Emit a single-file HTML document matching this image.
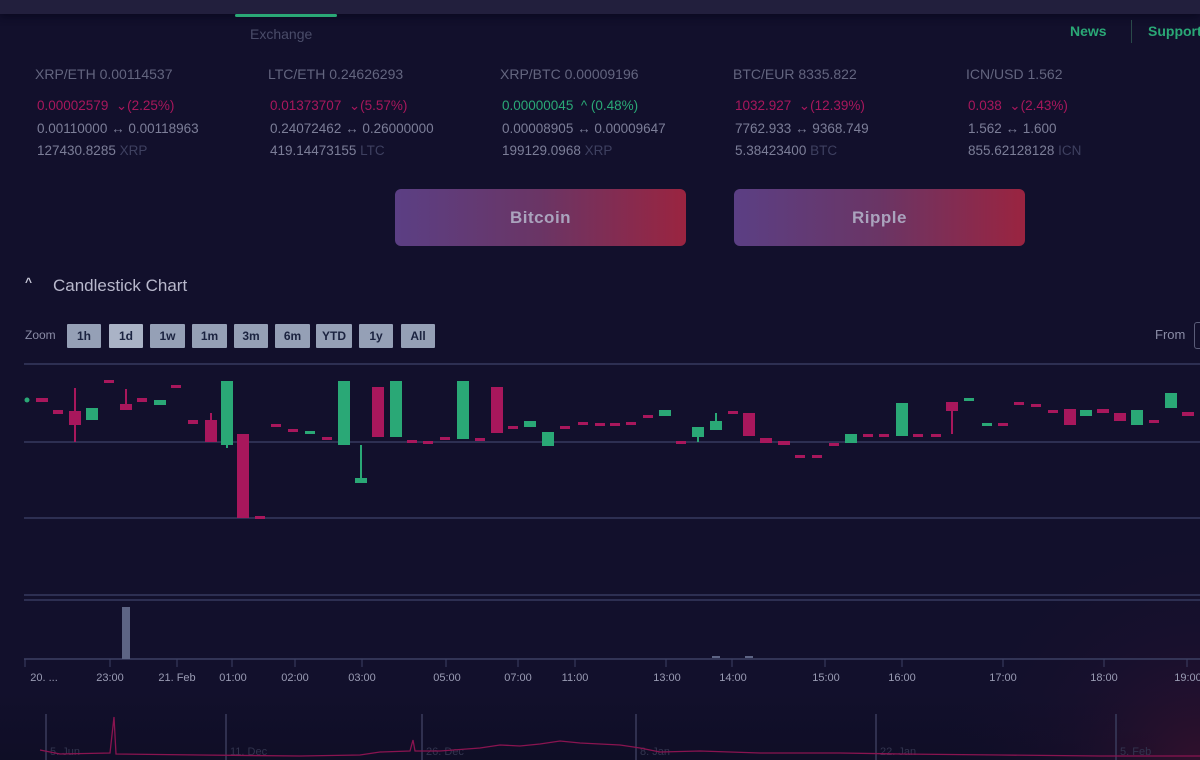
<!DOCTYPE html>
<html><head><meta charset="utf-8"><style>
*{margin:0;padding:0;box-sizing:border-box}
body{width:1200px;height:760px;overflow:hidden;background:#12102c;font-family:"Liberation Sans","DejaVu Sans",sans-serif;position:relative}
.a{position:absolute;white-space:nowrap}
.t{font-size:14px;color:#63657f}
.r{font-size:13.5px;color:#a8175c}
.g{font-size:13.5px;color:#2aa876}
.w{font-size:13.5px;color:#7c7e98}
.w span{color:#3e4060}
.btn{position:absolute;top:189px;height:57px;width:291px;border-radius:6px;background:linear-gradient(90deg,#5b3f84,#6a3565 50%,#9a2440);color:#aaa3bd;font-size:17px;text-align:center;line-height:57px;letter-spacing:0.5px;font-weight:bold}
.z{position:absolute;top:324px;height:24px;background:#95a0b6;color:#1b2340;font-weight:bold;font-size:12px;text-align:center;line-height:24px;border-radius:1px}
</style></head><body>
<div class="a" style="left:0;top:0;width:1200px;height:14px;background:#221f3d;box-shadow:0 3px 8px #0a0920"></div>
<div class="a" style="left:235px;top:14px;width:102px;height:3px;background:#2aa876;border-radius:2px"></div>
<div class="a" style="left:250px;top:26px;font-size:14px;color:#4a4c69">Exchange</div>
<div class="a" style="left:1070px;top:23px;font-size:14px;color:#2aa876;font-weight:bold">News</div>
<div class="a" style="left:1131px;top:20px;width:1px;height:23px;background:#2a4a4a"></div>
<div class="a" style="left:1148px;top:23px;font-size:14px;color:#2aa876;font-weight:bold">Support</div>

<div class="a t" style="left:35px;top:66px">XRP/ETH 0.00114537</div>
<div class="a r" style="left:37px;top:98px">0.00002579 &nbsp;⌄(2.25%)</div>
<div class="a w" style="left:37px;top:121px">0.00110000 ↔ 0.00118963</div>
<div class="a w" style="left:37px;top:143px">127430.8285 <span>XRP</span></div>

<div class="a t" style="left:268px;top:66px">LTC/ETH 0.24626293</div>
<div class="a r" style="left:270px;top:98px">0.01373707 &nbsp;⌄(5.57%)</div>
<div class="a w" style="left:270px;top:121px">0.24072462 ↔ 0.26000000</div>
<div class="a w" style="left:270px;top:143px">419.14473155 <span>LTC</span></div>

<div class="a t" style="left:500px;top:66px">XRP/BTC 0.00009196</div>
<div class="a g" style="left:502px;top:98px">0.00000045 &nbsp;^ (0.48%)</div>
<div class="a w" style="left:502px;top:121px">0.00008905 ↔ 0.00009647</div>
<div class="a w" style="left:502px;top:143px">199129.0968 <span>XRP</span></div>

<div class="a t" style="left:733px;top:66px">BTC/EUR 8335.822</div>
<div class="a r" style="left:735px;top:98px">1032.927 &nbsp;⌄(12.39%)</div>
<div class="a w" style="left:735px;top:121px">7762.933 ↔ 9368.749</div>
<div class="a w" style="left:735px;top:143px">5.38423400 <span>BTC</span></div>

<div class="a t" style="left:966px;top:66px">ICN/USD 1.562</div>
<div class="a r" style="left:968px;top:98px">0.038 &nbsp;⌄(2.43%)</div>
<div class="a w" style="left:968px;top:121px">1.562 ↔ 1.600</div>
<div class="a w" style="left:968px;top:143px">855.62128128 <span>ICN</span></div>

<div class="btn" style="left:395px">Bitcoin</div>
<div class="btn" style="left:734px">Ripple</div>

<div class="a" style="left:25px;top:275px;font-size:12px;color:#c8c8d8;font-weight:bold">^</div>
<div class="a" style="left:53px;top:276px;font-size:17px;color:#b8b8cc">Candlestick Chart</div>
<div class="a" style="left:25px;top:328px;font-size:12px;color:#8a8ca6">Zoom</div>
<div class="z" style="left:67px;width:34px">1h</div>
<div class="z" style="left:109px;width:34px;background:#aab3c6">1d</div>
<div class="z" style="left:150px;width:35px">1w</div>
<div class="z" style="left:192px;width:35px">1m</div>
<div class="z" style="left:234px;width:34px">3m</div>
<div class="z" style="left:275px;width:35px">6m</div>
<div class="z" style="left:316px;width:36px">YTD</div>
<div class="z" style="left:359px;width:34px">1y</div>
<div class="z" style="left:401px;width:34px">All</div>
<div class="a" style="left:1155px;top:327px;font-size:13px;color:#8a8ca6">From</div>
<div class="a" style="left:1194px;top:322px;width:10px;height:27px;border:1px solid #5a5c78;border-radius:3px"></div>

<svg class="a" style="left:0;top:0" width="1200" height="760">
<defs>
<radialGradient id="bg" cx="1200" cy="770" r="260" gradientUnits="userSpaceOnUse"><stop offset="0" stop-color="#4a1230" stop-opacity="0.6"/><stop offset="0.5" stop-color="#2a1030" stop-opacity="0.25"/><stop offset="1" stop-color="#12102c" stop-opacity="0"/></radialGradient>
<linearGradient id="bv" x1="0" y1="0" x2="0" y2="1"><stop offset="0" stop-color="#0c0b20" stop-opacity="0"/><stop offset="1" stop-color="#0c0b20" stop-opacity="0.5"/></linearGradient>
</defs>
<rect x="0" y="690" width="1200" height="70" fill="url(#bv)"/>
<rect x="900" y="500" width="300" height="260" fill="url(#bg)"/>
<g stroke="#2d2f52" stroke-width="2"><line x1="24" y1="364" x2="1200" y2="364"/><line x1="24" y1="442" x2="1200" y2="442"/><line x1="24" y1="518" x2="1200" y2="518"/><line x1="24" y1="595" x2="1200" y2="595"/><line x1="24" y1="600" x2="1200" y2="600"/></g>
<line x1="24" y1="659" x2="1200" y2="659" stroke="#3c4064" stroke-width="1.5"/>
<g stroke="#3c4064" stroke-width="1"><line x1="25" y1="659" x2="25" y2="667"/><line x1="110" y1="659" x2="110" y2="667"/><line x1="177" y1="659" x2="177" y2="667"/><line x1="232" y1="659" x2="232" y2="667"/><line x1="295" y1="659" x2="295" y2="667"/><line x1="362" y1="659" x2="362" y2="667"/><line x1="446" y1="659" x2="446" y2="667"/><line x1="518" y1="659" x2="518" y2="667"/><line x1="575" y1="659" x2="575" y2="667"/><line x1="666" y1="659" x2="666" y2="667"/><line x1="732" y1="659" x2="732" y2="667"/><line x1="825" y1="659" x2="825" y2="667"/><line x1="902" y1="659" x2="902" y2="667"/><line x1="1003" y1="659" x2="1003" y2="667"/><line x1="1104" y1="659" x2="1104" y2="667"/><line x1="1187" y1="659" x2="1187" y2="667"/></g>
<g font-size="11" fill="#9a9cb4" text-anchor="middle" font-family="Liberation Sans,sans-serif">
<text x="44" y="681">20. ...</text><text x="110" y="681">23:00</text><text x="177" y="681">21. Feb</text><text x="233" y="681">01:00</text><text x="295" y="681">02:00</text><text x="362" y="681">03:00</text><text x="447" y="681">05:00</text><text x="518" y="681">07:00</text><text x="575" y="681">11:00</text><text x="667" y="681">13:00</text><text x="733" y="681">14:00</text><text x="826" y="681">15:00</text><text x="902" y="681">16:00</text><text x="1003" y="681">17:00</text><text x="1104" y="681">18:00</text><text x="1188" y="681">19:00</text></g>
<rect x="122" y="607" width="8" height="52" fill="#5d6484"/>
<rect x="712" y="656" width="8" height="2" fill="#5d6484"/><rect x="745" y="656" width="8" height="2" fill="#5d6484"/>
<g stroke="#a8175c" stroke-width="2"><line x1="75" y1="388" x2="75" y2="442"/><line x1="126" y1="389" x2="126" y2="409"/><line x1="211" y1="413" x2="211" y2="422"/><line x1="952" y1="402" x2="952" y2="434"/></g>
<g stroke="#2aa876" stroke-width="2"><line x1="227" y1="440" x2="227" y2="448"/><line x1="361" y1="445" x2="361" y2="480"/><line x1="698" y1="432" x2="698" y2="442"/><line x1="716" y1="413" x2="716" y2="422"/></g>
<g fill="#a8175c">
<rect x="36" y="398" width="12" height="4"/><rect x="53" y="410" width="10" height="4"/><rect x="69" y="411" width="12" height="14"/><rect x="104" y="380" width="10" height="3"/><rect x="120" y="404" width="12" height="6"/><rect x="137" y="398" width="10" height="4"/><rect x="171" y="385" width="10" height="3"/><rect x="188" y="420" width="10" height="4"/><rect x="205" y="420" width="12" height="22"/><rect x="237" y="434" width="12" height="84"/><rect x="255" y="516" width="10" height="3"/><rect x="271" y="424" width="10" height="3"/><rect x="288" y="429" width="10" height="3"/><rect x="322" y="437" width="10" height="3"/><rect x="372" y="387" width="12" height="50"/><rect x="407" y="440" width="10" height="3"/><rect x="423" y="441" width="10" height="3"/><rect x="440" y="437" width="10" height="3"/><rect x="475" y="438" width="10" height="3"/><rect x="491" y="387" width="12" height="46"/><rect x="508" y="426" width="10" height="3"/><rect x="560" y="426" width="10" height="3"/><rect x="578" y="422" width="10" height="3"/><rect x="595" y="423" width="10" height="3"/><rect x="610" y="423" width="10" height="3"/><rect x="626" y="422" width="10" height="3"/><rect x="643" y="415" width="10" height="3"/><rect x="676" y="441" width="10" height="3"/><rect x="728" y="411" width="10" height="3"/><rect x="743" y="413" width="12" height="23"/><rect x="760" y="438" width="12" height="5"/><rect x="778" y="441" width="12" height="4"/><rect x="795" y="455" width="10" height="3"/><rect x="812" y="455" width="10" height="3"/><rect x="829" y="443" width="10" height="3"/><rect x="863" y="434" width="10" height="3"/><rect x="879" y="434" width="10" height="3"/><rect x="913" y="434" width="10" height="3"/><rect x="931" y="434" width="10" height="3"/><rect x="946" y="402" width="12" height="9"/><rect x="998" y="423" width="10" height="3"/><rect x="1014" y="402" width="10" height="3"/><rect x="1031" y="404" width="10" height="3"/><rect x="1048" y="410" width="10" height="3"/><rect x="1064" y="409" width="12" height="16"/><rect x="1097" y="409" width="12" height="4"/><rect x="1114" y="413" width="12" height="8"/><rect x="1149" y="420" width="10" height="3"/><rect x="1182" y="412" width="12" height="4"/>
</g>
<g fill="#2aa876">
<circle cx="27" cy="400" r="2.5"/><rect x="86" y="408" width="12" height="12"/><rect x="154" y="400" width="12" height="5"/><rect x="221" y="381" width="12" height="64"/><rect x="305" y="431" width="10" height="3"/><rect x="338" y="381" width="12" height="64"/><rect x="355" y="478" width="12" height="5"/><rect x="390" y="381" width="12" height="56"/><rect x="457" y="381" width="12" height="58"/><rect x="524" y="421" width="12" height="6"/><rect x="542" y="432" width="12" height="14"/><rect x="659" y="410" width="12" height="6"/><rect x="692" y="427" width="12" height="10"/><rect x="710" y="421" width="12" height="9"/><rect x="845" y="434" width="12" height="9"/><rect x="896" y="403" width="12" height="33"/><rect x="964" y="398" width="10" height="3"/><rect x="982" y="423" width="10" height="3"/><rect x="1080" y="410" width="12" height="6"/><rect x="1131" y="410" width="12" height="15"/><rect x="1165" y="393" width="12" height="15"/>
</g>
<g stroke="#3a3c5c" stroke-width="1.5"><line x1="46" y1="714" x2="46" y2="760"/><line x1="226" y1="714" x2="226" y2="760"/><line x1="422" y1="714" x2="422" y2="760"/><line x1="636" y1="714" x2="636" y2="760"/><line x1="876" y1="714" x2="876" y2="760"/><line x1="1116" y1="714" x2="1116" y2="760"/></g>
<g font-size="11" fill="#33354f" font-family="Liberation Sans,sans-serif"><text x="50" y="755">5. Jun</text><text x="230" y="755">11. Dec</text><text x="426" y="755">26. Dec</text><text x="640" y="755">8. Jan</text><text x="880" y="755">22. Jan</text><text x="1120" y="755">5. Feb</text></g>
<polyline fill="none" stroke="#8a1450" stroke-width="1.3" points="40,750 60,754 110,753 114,717 116,754 200,755 300,756 360,755 380,752 410,751 413,740 415,751 440,751 480,748 500,745 520,746 540,744 560,741 580,743 600,744 620,745 640,748 660,752 700,751 760,753 840,753 900,754 1000,755 1100,756 1200,756"/>
</svg>
</body></html>
